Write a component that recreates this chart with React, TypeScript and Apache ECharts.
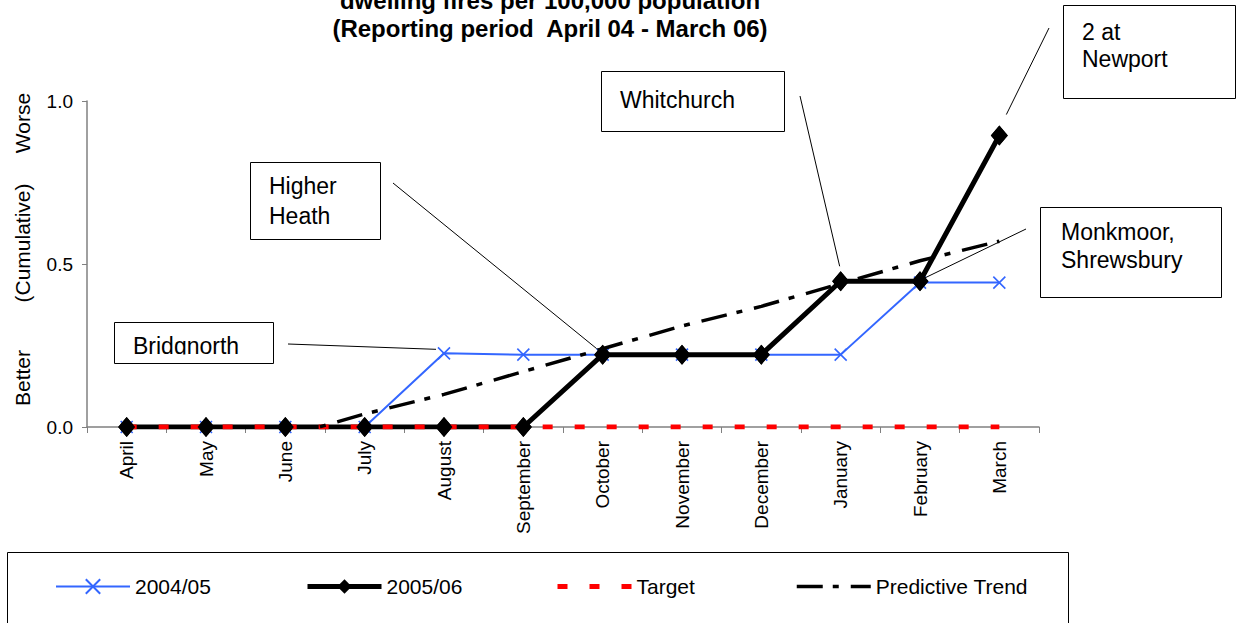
import React, { useEffect, useRef } from 'react';
import * as echarts from 'echarts';

// ---- data ----
const months = ['April', 'May', 'June', 'July', 'August', 'September', 'October', 'November', 'December', 'January', 'February', 'March'];
const values0405 = [0, 0, 0, 0, 0.226, 0.222, 0.222, 0.222, 0.222, 0.222, 0.443, 0.443];
const values0506 = [0, 0, 0, 0, 0, 0, 0.222, 0.222, 0.222, 0.447, 0.447, 0.894];
const targetValues = [0, 0, 0, 0, 0, 0, 0, 0, 0, 0, 0, 0];
const trendValues = [null, null, -0.03, 0.04, 0.1, 0.17, 0.24, 0.31, 0.37, 0.44, 0.51, 0.57];
const yTicks = [0, 0.5, 1.0];
const seriesNames = ['2004/05', '2005/06', 'Target', 'Predictive Trend'];
const titleLines = ['dwelling fires per 100,000 population', '(Reporting period  April 04 - March 06)'];
const yTitles = ['Worse', '(Cumulative)', 'Better'];

const FONT = '"Liberation Sans", Arial, Helvetica, sans-serif';
const BLUE = '#3366FF';

export default function App() {
  const ref = useRef<HTMLDivElement>(null);

  useEffect(() => {
    const chart = echarts.init(ref.current!, null, { renderer: 'svg' });
    const legendLeft = [55, 305, 555, 795];
    const legendLineWidth = [2, 5, 5, 3.5];
    const legendHideSymbol = [false, false, true, true];
    const option: any = {
      animation: false,
      backgroundColor: '#ffffff',
      textStyle: { fontFamily: FONT, color: '#000' },
      grid: { left: 87, right: 197, top: 101, bottom: 196, containLabel: false },
      xAxis: {
        type: 'category',
        data: months,
        boundaryGap: true,
        axisLine: { show: true, lineStyle: { color: '#808080', width: 1.5 } },
        axisTick: { show: true, length: 6, lineStyle: { color: '#808080', width: 1 } },
        axisLabel: { rotate: 90, fontSize: 19, margin: 14, color: '#000', interval: 0, fontFamily: FONT },
        splitLine: { show: false },
      },
      yAxis: {
        type: 'value',
        min: yTicks[0],
        max: yTicks[yTicks.length - 1],
        interval: yTicks[1] - yTicks[0],
        axisLine: { show: true, lineStyle: { color: '#808080', width: 1.5 } },
        axisTick: { show: true, length: 5, lineStyle: { color: '#808080', width: 1 } },
        axisLabel: { fontSize: 19, margin: 14, color: '#000', fontFamily: FONT, formatter: (v: number) => v.toFixed(1) },
        splitLine: { show: false },
      },
      legend: seriesNames.map((n, i) => ({
        data: [n],
        left: legendLeft[i],
        top: 576,
        padding: 0,
        itemWidth: 74,
        itemHeight: 18,
        itemGap: 0,
        selectedMode: false,
        lineStyle: { width: legendLineWidth[i] },
        itemStyle: legendHideSymbol[i] ? { color: 'rgba(0,0,0,0)', opacity: 0, borderWidth: 0 } : {},
        textStyle: { fontSize: 21, color: '#000', fontFamily: FONT },
      })),
      series: [
        {
          name: seriesNames[0],
          type: 'line',
          data: values0405,
          z: 2,
          symbol: 'path://M0,0L10,10M10,0L0,10',
          symbolSize: 12,
          showAllSymbol: true,
          lineStyle: { color: BLUE, width: 2 },
          itemStyle: { color: BLUE, borderColor: BLUE, borderWidth: 1.6 },
        },
        {
          name: seriesNames[1],
          type: 'line',
          data: values0506,
          z: 3,
          symbol: 'diamond',
          symbolSize: [17, 20],
          showAllSymbol: true,
          lineStyle: { color: '#000', width: 5 },
          itemStyle: { color: '#000' },
        },
        {
          name: seriesNames[2],
          type: 'line',
          data: targetValues,
          z: 4,
          symbol: 'none',
          lineStyle: { color: '#FF0000', width: 5, type: [10, 22], cap: 'butt' },
          itemStyle: { color: '#FF0000' },
        },
        {
          name: seriesNames[1],
          type: 'line',
          data: values0506,
          z: 5,
          symbol: 'diamond',
          symbolSize: [17, 20],
          showAllSymbol: true,
          lineStyle: { width: 0, opacity: 0 },
          itemStyle: { color: '#000' },
        },
        {
          name: seriesNames[3],
          type: 'line',
          data: trendValues,
          z: 6,
          symbol: 'none',
          connectNulls: false,
          clip: true,
          lineStyle: { color: '#000', width: 3.5, type: [26, 10, 6, 12], cap: 'butt' },
          itemStyle: { color: '#000' },
        },
      ],
    };
    chart.setOption(option);

    const px = (i: number, v: number) => chart.convertToPixel({ gridIndex: 0 }, [i, v]) as number[];

    const txt = (s: string, x: number, y: number, size: number, extra: any = {}) => ({
      type: 'text',
      x,
      y,
      z: 20,
      style: { text: s, fill: '#000', fontSize: size, fontFamily: FONT, align: 'left', verticalAlign: 'middle', ...extra },
    });
    const box = (x: number, y: number, w: number, h: number) => ({
      type: 'rect',
      z: 19,
      shape: { x: x + 0.5, y: y + 0.5, width: w, height: h },
      style: { fill: '#fff', stroke: '#000', lineWidth: 1 },
    });
    const leader = (x1: number, y1: number, p: number[], dx: number, dy: number) => ({
      type: 'line',
      z: 18,
      shape: { x1, y1, x2: p[0] + dx, y2: p[1] + dy },
      style: { stroke: '#000', lineWidth: 1 },
    });

    const pAug = px(4, values0405[4]);
    const pOct = px(6, values0506[6]);
    const pJan = px(9, values0506[9]);
    const pFeb = px(10, values0506[10]);
    const pMar = px(11, values0506[11]);

    const graphic: any[] = [
      // title
      { type: 'text', x: 550, y: 0, z: 20, style: { text: titleLines[0], fill: '#000', fontSize: 24, fontWeight: 'bold', fontFamily: FONT, align: 'center', verticalAlign: 'middle' } },
      { type: 'text', x: 550, y: 28, z: 20, style: { text: titleLines[1], fill: '#000', fontSize: 24, fontWeight: 'bold', fontFamily: FONT, align: 'center', verticalAlign: 'middle' } },
      // y axis titles
      { type: 'text', x: 22, y: 123, rotation: Math.PI / 2, z: 20, style: { text: yTitles[0], fill: '#000', fontSize: 21, fontFamily: FONT, align: 'center', verticalAlign: 'middle' } },
      { type: 'text', x: 22, y: 243, rotation: Math.PI / 2, z: 20, style: { text: yTitles[1], fill: '#000', fontSize: 21, fontFamily: FONT, align: 'center', verticalAlign: 'middle' } },
      { type: 'text', x: 22, y: 378, rotation: Math.PI / 2, z: 20, style: { text: yTitles[2], fill: '#000', fontSize: 21, fontFamily: FONT, align: 'center', verticalAlign: 'middle' } },
      // legend frame
      { type: 'rect', z: 1, shape: { x: 7.5, y: 552.5, width: 1061, height: 90 }, style: { fill: 'none', stroke: '#000', lineWidth: 1 } },

      // Bridgnorth
      leader(288, 344, pAug, -8, -4),
      box(114, 322, 159, 41),
      txt('Bridgnorth', 133, 346, 23),
      { type: 'rect', z: 21, shape: { x: 116, y: 354.5, width: 155, height: 8 }, style: { fill: '#fff' } },

      // Higher Heath
      leader(393, 183, pOct, -6, -6),
      box(250, 162, 130, 77),
      txt('Higher', 269, 186, 23),
      txt('Heath', 269, 216, 23),

      // Whitchurch
      leader(800, 96, pJan, -1, -15),
      box(601, 71, 183, 60),
      txt('Whitchurch', 620, 100, 23),

      // 2 at Newport
      leader(1049, 28, pMar, 7, -21),
      box(1063, 5, 172, 93),
      txt('2 at', 1082, 32, 23),
      txt('Newport', 1082, 59, 23),

      // Monkmoor, Shrewsbury
      leader(1026, 229, pFeb, 0, -1),
      box(1040, 207, 181, 90),
      txt('Monkmoor,', 1061, 232, 23),
      txt('Shrewsbury', 1061, 260, 23),
    ];
    chart.setOption({ graphic });

    return () => chart.dispose();
  }, []);

  return (
    <div
      ref={ref}
      style={{ position: 'fixed', left: 0, top: 0, width: 1236, height: 623, background: '#fff' }}
    />
  );
}
